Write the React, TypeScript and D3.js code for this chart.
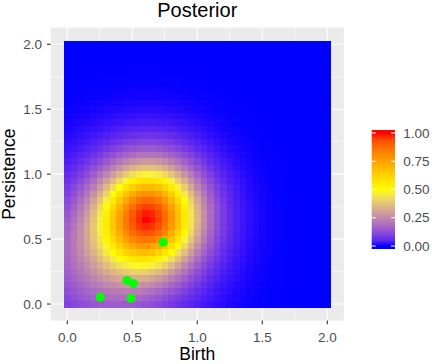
import React from "react";
import * as d3 from "d3";

// grid the posterior was evaluated on (tile centres)
const birthGrid = d3.range(0, 2.0001, 0.05);
const persistGrid = d3.range(0, 2.0001, 0.05);

const compBirth = [0.63, 0.3];
const compPersist = [0.68, 0.35];
const compSdBirth = [0.26, 0.36];
const compSdPersist = [0.27, 0.36];
const compWeight = [1, 0.24];

// observed diagram points (green)
const pointBirth = [0.738, 0.459, 0.508, 0.254, 0.49];
const pointPersist = [0.475, 0.182, 0.159, 0.052, 0.044];

const axisTicks = [0, 0.5, 1, 1.5, 2];
const minorTicks = [0.25, 0.75, 1.25, 1.75];
const legendTicks = [0, 0.25, 0.5, 0.75, 1];

const W = 432;
const H = 364;
const font = "'Liberation Sans', Arial, sans-serif";

export default function App() {
  const x = d3.scaleLinear().domain([-0.1275, 2.1275]).range([50.7, 343.9]);
  const y = d3.scaleLinear().domain([-0.1275, 2.1275]).range([320.6, 27.7]);
  const color = d3
    .scaleLinear<string>()
    .domain([0, 0.5, 1])
    .range(["blue", "yellow", "red"])
    .interpolate(d3.interpolateLab);

  const cells: { b: number; p: number; v: number }[] = [];
  birthGrid.forEach((b) =>
    persistGrid.forEach((p) => {
      let v = 0;
      compWeight.forEach((w, i) => {
        const dx = (b - compBirth[i]) / compSdBirth[i];
        const dy = (p - compPersist[i]) / compSdPersist[i];
        v += w * Math.exp(-0.5 * (dx * dx + dy * dy));
      });
      cells.push({ b, p, v });
    })
  );
  const vmax = d3.max(cells, (d) => d.v) as number;
  const step = 0.05;
  const cw = x(step) - x(0);
  const ch = y(0) - y(step);

  // legend bar
  const bar = { x: 371.7, top: 130, w: 23.3, h: 119 };
  const nbin = 20;
  const ly = d3
    .scaleLinear()
    .domain([0, 1])
    .range([bar.top + bar.h - (0.5 / nbin) * bar.h, bar.top + (0.5 / nbin) * bar.h]);

  const [x0, x1] = x.range();
  const [y0, y1] = y.range();

  return (
    <svg width={W} height={H} style={{ position: "absolute", left: 0, top: 0 }} fontFamily={font}>
      <rect width={W} height={H} fill="white" />
      <rect x={x0} y={y1} width={x1 - x0} height={y0 - y1} fill="#EBEBEB" />
      {minorTicks.map((t) => (
        <g key={"m" + t}>
          <line x1={x(t)} x2={x(t)} y1={y1} y2={y0} stroke="white" strokeWidth={0.55} />
          <line x1={x0} x2={x1} y1={y(t)} y2={y(t)} stroke="white" strokeWidth={0.55} />
        </g>
      ))}
      {axisTicks.map((t) => (
        <g key={"M" + t}>
          <line x1={x(t)} x2={x(t)} y1={y1} y2={y0} stroke="white" strokeWidth={1.1} />
          <line x1={x0} x2={x1} y1={y(t)} y2={y(t)} stroke="white" strokeWidth={1.1} />
        </g>
      ))}
      <g shapeRendering="crispEdges">
        {cells.map((d, i) => (
          <rect
            key={i}
            x={x(d.b) - cw / 2}
            y={y(d.p) - ch / 2}
            width={cw + 0.4}
            height={ch + 0.4}
            fill={color(d.v / vmax)}
          />
        ))}
      </g>
      {pointBirth.map((b, i) => (
        <circle key={i} cx={x(b)} cy={y(pointPersist[i])} r={4.5} fill="#00FF00" />
      ))}

      {/* axes */}
      {axisTicks.map((t) => (
        <g key={"t" + t}>
          <line x1={x(t)} x2={x(t)} y1={y0} y2={y0 + 3.7} stroke="#333333" strokeWidth={1.1} />
          <text x={x(t)} y={341.7} textAnchor="middle" fontSize={13.5} fill="#4D4D4D">
            {t.toFixed(1)}
          </text>
          <line x1={x0 - 3.7} x2={x0} y1={y(t)} y2={y(t)} stroke="#333333" strokeWidth={1.1} />
          <text x={42} y={y(t)} dy="0.35em" textAnchor="end" fontSize={13.5} fill="#4D4D4D">
            {t.toFixed(1)}
          </text>
        </g>
      ))}
      <text x={(x0 + x1) / 2} y={360} textAnchor="middle" fontSize={17.5} fill="black">
        Birth
      </text>
      <text
        transform={`translate(15,${(y0 + y1) / 2}) rotate(-90)`}
        textAnchor="middle"
        fontSize={17.5}
        fill="black"
      >
        Persistence
      </text>
      <text x={(x0 + x1) / 2} y={17} textAnchor="middle" fontSize={20} fill="black">
        Posterior
      </text>

      {/* legend */}
      <defs>
        <linearGradient id="lg" x1="0" x2="0" y1="1" y2="0">
          {d3.range(0, 1.0001, 0.05).map((v) => (
            <stop key={v} offset={(bar.top + bar.h - ly(v)) / bar.h} stopColor={color(v)} />
          ))}
        </linearGradient>
      </defs>
      <rect x={bar.x} y={bar.top} width={bar.w} height={bar.h} fill="url(#lg)" />
      {legendTicks.map((t) => (
        <g key={"l" + t}>
          <line x1={bar.x} x2={bar.x + 4} y1={ly(t)} y2={ly(t)} stroke="white" strokeWidth={1} />
          <line x1={bar.x + bar.w - 4} x2={bar.x + bar.w} y1={ly(t)} y2={ly(t)} stroke="white" strokeWidth={1} />
          <text x={403.3} y={ly(t)} dy="0.35em" fontSize={13.5} fill="#4D4D4D">
            {t.toFixed(2)}
          </text>
        </g>
      ))}
    </svg>
  );
}
